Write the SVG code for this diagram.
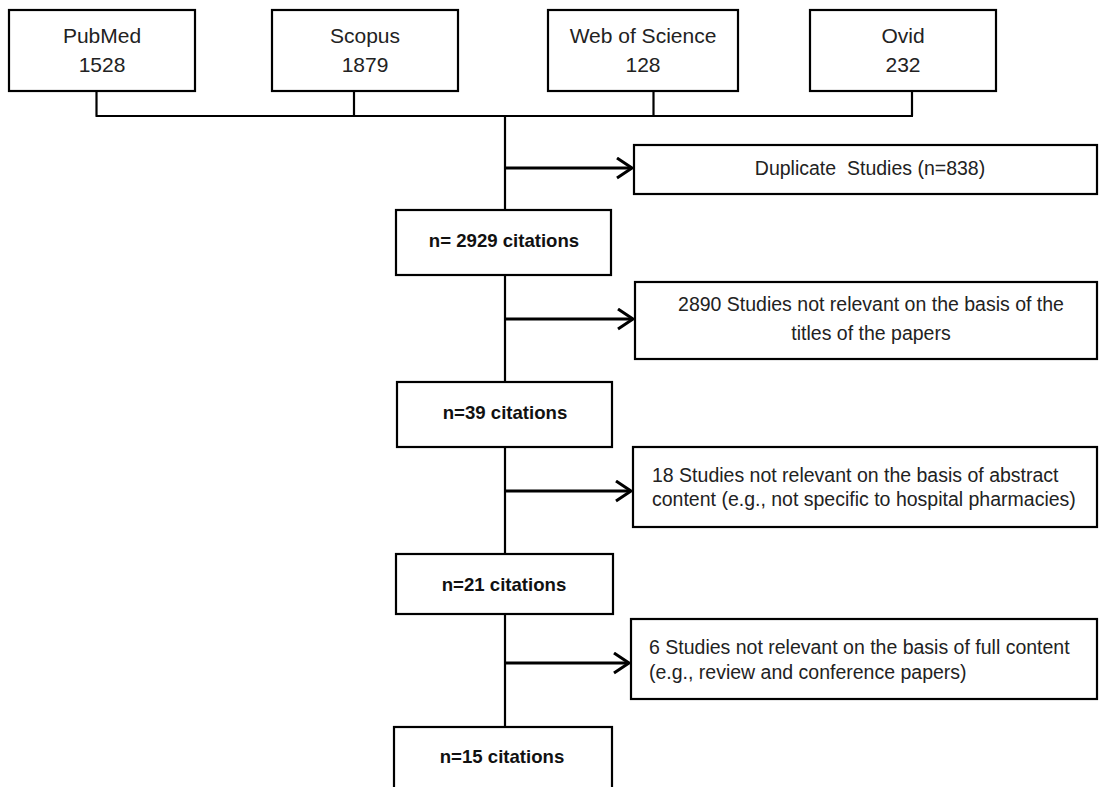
<svg xmlns="http://www.w3.org/2000/svg" width="1099" height="787" viewBox="0 0 1099 787">
  <defs>
    <marker id="chev" markerUnits="userSpaceOnUse" markerWidth="20" markerHeight="24" refX="16" refY="11" orient="auto">
      <path d="M1,1 L16,11 L1,21" fill="none" stroke="#000" stroke-width="3" stroke-linejoin="miter"/>
    </marker>
    <style>
      .box { fill: #fff; stroke: #000; stroke-width: 2.2; }
      .src { font-family: "Liberation Sans", Arial, sans-serif; font-size: 21px; fill: #222; text-anchor: middle; }
      .step { font-family: "Liberation Sans", Arial, sans-serif; font-size: 18.6px; font-weight: bold; fill: #111; text-anchor: middle; }
      .note { font-family: "Liberation Sans", Arial, sans-serif; font-size: 19.5px; fill: #222; }
      .wire { fill: none; stroke: #000; stroke-width: 2.2; }
      .arrow { fill: none; stroke: #000; stroke-width: 3; marker-end: url(#chev); }
    </style>
  </defs>
  <rect width="1099" height="787" fill="#fff"/>

  <!-- connectors -->
  <g id="connectors">
    <path class="wire" d="M96.5,91 V116 M354,91 V116 M653.5,91 V116 M912,91 V116 M95.5,116 H913"/>
    <path class="wire" d="M505,116 V210 M505,275 V382 M505,447 V554 M505,614 V727"/>
    <path class="arrow" d="M505,168 H632"/>
    <path class="arrow" d="M505,319 H633"/>
    <path class="arrow" d="M505,491 H631"/>
    <path class="arrow" d="M505,663 H629"/>
  </g>

  <!-- database sources -->
  <g id="pubmed">
    <rect class="box" x="9" y="10" width="186" height="81"/>
    <text class="src" x="102" y="43">PubMed</text>
    <text class="src" x="102" y="72">1528</text>
  </g>
  <g id="scopus">
    <rect class="box" x="272" y="10" width="186" height="81"/>
    <text class="src" x="365" y="43">Scopus</text>
    <text class="src" x="365" y="72">1879</text>
  </g>
  <g id="web-of-science">
    <rect class="box" x="548" y="10" width="190" height="81"/>
    <text class="src" x="643" y="43">Web of Science</text>
    <text class="src" x="643" y="72">128</text>
  </g>
  <g id="ovid">
    <rect class="box" x="810" y="10" width="186" height="81"/>
    <text class="src" x="903" y="43">Ovid</text>
    <text class="src" x="903" y="72">232</text>
  </g>

  <!-- screening steps -->
  <g id="n2929">
    <rect class="box" x="396" y="210" width="215" height="65"/>
    <text class="step" x="504" y="247">n= 2929 citations</text>
  </g>
  <g id="n39">
    <rect class="box" x="397" y="382" width="215" height="65"/>
    <text class="step" x="505" y="419">n=39 citations</text>
  </g>
  <g id="n21">
    <rect class="box" x="396" y="554" width="217" height="60"/>
    <text class="step" x="504" y="591">n=21 citations</text>
  </g>
  <g id="n15">
    <rect class="box" x="394" y="727" width="218" height="80"/>
    <text class="step" x="502" y="763">n=15 citations</text>
  </g>

  <!-- exclusions -->
  <g id="duplicates">
    <rect class="box" x="634" y="145" width="463" height="49"/>
    <text class="note" x="870" y="175" text-anchor="middle" xml:space="preserve">Duplicate  Studies (n=838)</text>
  </g>
  <g id="excl-titles">
    <rect class="box" x="635" y="282" width="462" height="77"/>
    <text class="note" x="871" y="311" text-anchor="middle">2890 Studies not relevant on the basis of the</text>
    <text class="note" x="871" y="340" text-anchor="middle">titles of the papers</text>
  </g>
  <g id="excl-abstract">
    <rect class="box" x="633" y="447" width="464" height="80"/>
    <text class="note" x="652" y="482">18 Studies not relevant on the basis of abstract</text>
    <text class="note" x="652" y="506">content (e.g., not specific to hospital pharmacies)</text>
  </g>
  <g id="excl-full">
    <rect class="box" x="631" y="619" width="466" height="80"/>
    <text class="note" x="649" y="654">6 Studies not relevant on the basis of full content</text>
    <text class="note" x="649" y="679">(e.g., review and conference papers)</text>
  </g>
</svg>
